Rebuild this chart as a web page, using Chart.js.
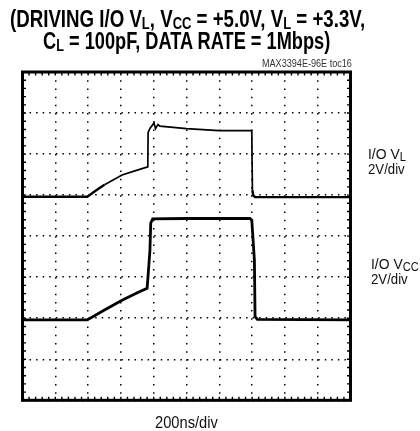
<!DOCTYPE html>
<html lang="en">
<head>
    <meta charset="UTF-8">
    <script src="https://cdn.jsdelivr.net/npm/chart.js"></script>
    <title>MAX3394E toc16</title>
    <style>
        html, body { margin: 0; padding: 0; background: #fff; overflow: hidden; }
        #wrap { position: relative; width: 420px; height: 431px; }
        #scope { position: absolute; left: 0; top: 0; }
        .txt { position: absolute; white-space: nowrap; transform-origin: 0 0; line-height: 1; font-family: "Liberation Sans", Arial, sans-serif; color: #111; }
        .title { font-weight: bold; font-size: 23px; color: #000; }
        .title .sub { font-size: 16px; vertical-align: -2px; }
        .lbl { font-size: 15px; }
        .lbl .sub { font-size: 12px; vertical-align: -2px; }
        .note { font-size: 11px; color: #333; }
        .axis { font-size: 17px; }
    </style>
</head>
<body>
<div id="wrap">
    <canvas id="scope" width="420" height="431"></canvas>
    <div class="txt title" id="t1">(DRIVING I/O V<span class="sub">L</span>, V<span class="sub">CC</span> = +5.0V, V<span class="sub">L</span> = +3.3V,</div>
    <div class="txt title" id="t2">C<span class="sub">L</span> = 100pF, DATA RATE = 1Mbps)</div>
    <div class="txt note" id="code">MAX3394E-96E toc16</div>
    <div class="txt lbl" id="vlName">I/O V<span class="sub">L</span></div>
    <div class="txt lbl" id="vlScale">2V/div</div>
    <div class="txt lbl" id="vccName">I/O V<span class="sub">CC</span></div>
    <div class="txt lbl" id="vccScale">2V/div</div>
    <div class="txt axis" id="xName">200ns/div</div>
</div>
<script>
    // time in ns, voltage in V
    const vlTime  = [0, 395, 450, 500, 607, 700, 764, 766, 778, 802, 811, 826, 838, 1000, 1198, 1398, 1402, 1406, 1418, 2000]
    const vlVolts = [0, 0, 0.32, 0.58, 1.06, 1.30, 1.46, 3.14, 3.34, 3.60, 3.32, 3.52, 3.44, 3.32, 3.22, 3.22, 0.32, 0.08, -0.02, -0.02]

    const vccTime  = [0, 395, 500, 607, 700, 760, 777, 782, 794, 1000, 1387, 1398, 1414, 1418, 1432, 2000]
    const vccVolts = [0, 0, 0.48, 0.96, 1.32, 1.54, 3.38, 4.72, 4.92, 4.94, 4.94, 4.86, 2.92, 0.16, 0.02, 0]

    const NS_PER_DIV = 200
    const V_PER_DIV = 2
    const X_DIVS = 10
    const Y_DIVS = 8
    // ground marker of each channel, in divisions from the bottom
    const VL_ZERO = 4.96
    const VCC_ZERO = 1.96

    const toPoints = (ts, vs, zero) => ts.map((t, i) => ({ x: t, y: zero + vs[i] / V_PER_DIV }))

    // frame + small inner ticks every 1/5 division
    const scopeFrame = {
        id: "scopeFrame",
        afterDraw(chart) {
            const { ctx, chartArea: a, scales: { x, y } } = chart
            ctx.save()
            ctx.strokeStyle = "#000"
            ctx.lineWidth = 1.4
            ctx.beginPath()
            for (let t = 0; t <= NS_PER_DIV * X_DIVS; t += NS_PER_DIV / 5) {
                const px = x.getPixelForValue(t)
                ctx.moveTo(px, a.top); ctx.lineTo(px, a.top + 3.5)
                ctx.moveTo(px, a.bottom); ctx.lineTo(px, a.bottom - 3.5)
            }
            for (let k = 0; k <= Y_DIVS * 5; k++) {
                const py = y.getPixelForValue(k / 5)
                ctx.moveTo(a.left, py); ctx.lineTo(a.left + 3.5, py)
                ctx.moveTo(a.right, py); ctx.lineTo(a.right - 3.5, py)
            }
            ctx.stroke()
            ctx.lineWidth = 3
            ctx.strokeRect(a.left, a.top, a.right - a.left, a.bottom - a.top)
            ctx.restore()
        }
    }

    const ctx = document.getElementById("scope").getContext("2d")
    const scopeChart = new Chart(ctx, {
        type: "line",
        data: {
            datasets: [
                {
                    label: "I/O VL",
                    data: toPoints(vlTime, vlVolts, VL_ZERO),
                    borderColor: "#000",
                    borderWidth: 2.4,
                    segment: {
                        borderWidth: c => (c.p0.parsed.y > 5.3 || c.p1.parsed.y > 5.3) ? 1.7 : 2.4
                    },
                    pointRadius: 0,
                    tension: 0
                },
                {
                    label: "I/O VCC",
                    data: toPoints(vccTime, vccVolts, VCC_ZERO),
                    borderColor: "#000",
                    borderWidth: 2.8,
                    pointRadius: 0,
                    tension: 0
                }
            ]
        },
        options: {
            responsive: false,
            animation: false,
            events: [],
            layout: {
                autoPadding: false,
                padding: { left: 22.5, right: 69.5, top: 72, bottom: 30.7 }
            },
            plugins: { legend: { display: false }, tooltip: { enabled: false } },
            scales: {
                x: {
                    type: "linear",
                    min: 0,
                    max: NS_PER_DIV * X_DIVS,
                    ticks: { stepSize: NS_PER_DIV, display: false },
                    grid: { color: "#000", lineWidth: 1.5, drawTicks: false },
                    border: { display: false, dash: [1.5, 6.71] },
                    afterFit: s => { s.height = 0 }
                },
                y: {
                    type: "linear",
                    min: 0,
                    max: Y_DIVS,
                    ticks: { stepSize: 1, display: false },
                    grid: { color: "#000", lineWidth: 1.5, drawTicks: false },
                    border: { display: false, dash: [1.5, 5.06] },
                    afterFit: s => { s.width = 0 }
                }
            }
        },
        plugins: [scopeFrame]
    })

    // place html text by baseline and squeeze to the reference width
    function place(id, left, base, width, scale) {
        const el = document.getElementById(id)
        const mark = document.createElement("span")
        mark.style.cssText = "display:inline-block;width:0;height:0;vertical-align:baseline"
        el.appendChild(mark)
        el.style.left = left + "px"
        el.style.top = "0px"
        el.style.top = (base - mark.offsetTop) + "px"
        const s = scale || width / el.offsetWidth
        el.style.transform = "scaleX(" + s + ")"
        return s
    }
    place("t1", 10, 27, 355)
    place("t2", 42.7, 48.5, 287.3)
    place("code", 262, 66.5, 90)
    const nameScale = place("vlName", 368, 159, 38)
    const divScale = place("vlScale", 368, 174, 37)
    place("vccName", 371, 269, 0, nameScale)
    place("vccScale", 371, 284, 0, divScale)
    place("xName", 155, 428, 63)
</script>
</body>
</html>
